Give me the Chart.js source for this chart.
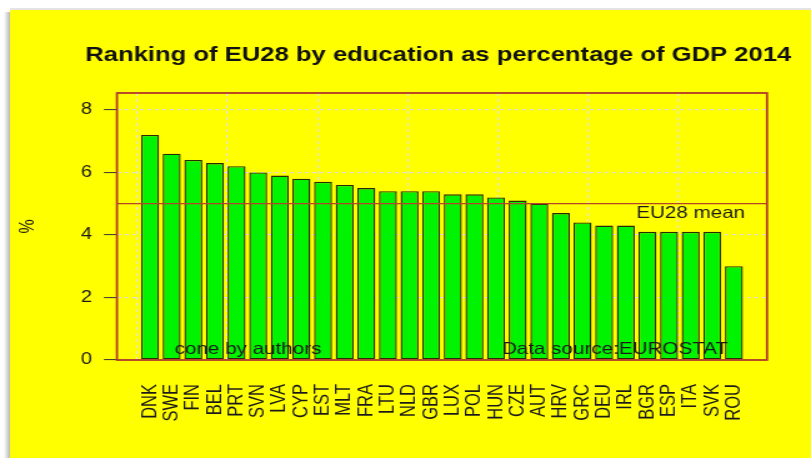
<!DOCTYPE html>
<html><head><meta charset="utf-8">
<script src="https://cdn.jsdelivr.net/npm/chart.js@4/dist/chart.umd.min.js"></script>
<style>
html,body{margin:0;padding:0;background:#fff;overflow:hidden;width:811px;height:458px;}
#wrap{position:absolute;left:0;top:0;width:649px;height:458px;transform:scaleX(1.2496);transform-origin:0 0;}
canvas{display:block;}
</style></head><body>
<div id="wrap"><canvas id="c" width="649" height="458"></canvas></div>
<script>
// ---- data ----
const categories = ['DNK','SWE','FIN','BEL','PRT','SVN','LVA','CYP','EST','MLT','FRA','LTU','NLD','GBR',
                    'LUX','POL','HUN','CZE','AUT','HRV','GRC','DEU','IRL','BGR','ESP','ITA','SVK','ROU'];
const values = [7.2,6.6,6.4,6.3,6.2,6.0,5.9,5.8,5.7,5.6,5.5,5.4,5.4,5.4,
                5.3,5.3,5.2,5.1,5.0,4.7,4.4,4.3,4.3,4.1,4.1,4.1,4.1,3.0];
const yTicks = [0,2,4,6,8];
const euMean = 5.0;
const titleText = 'Ranking of EU28 by education as percentage of GDP 2014';
const yLabel = '%';
const noteTexts = ['cone by authors','Data source:EUROSTAT','EU28 mean'];
const noteX = [4.53, 21.5, 25.0];
const noteY = [0.35, 0.35, 4.7];
// vertical grid positions (R barplot x = 0,5,...,30 expressed in bar-index units)
const xGridAt = [-0.583, 3.583, 7.75, 11.917, 16.083, 20.25, 24.417];
const xMin = -1.53, xMax = 28.53, yMin = 0, yMax = 8.54;

Chart.defaults.font.family = "'Liberation Sans', Arial, Helvetica, sans-serif";
Chart.defaults.color = '#1a1a1a';

const bgPlugin = {
  id: 'bg',
  beforeDraw(chart) {
    const {ctx, width, height} = chart;
    ctx.save();
    ctx.fillStyle = '#fff';
    ctx.fillRect(0, 0, width, height);
    const g = ctx.createLinearGradient(3, 0, 8, 0);
    g.addColorStop(0, 'rgba(0,0,0,0)');
    g.addColorStop(1, 'rgba(0,0,0,0.28)');
    ctx.fillStyle = g;
    ctx.fillRect(3, 12, 5, height - 12);
    ctx.fillStyle = '#e4e4e4';
    ctx.fillRect(8, 8, width - 8, 2);
    ctx.fillStyle = '#ffff00';
    ctx.fillRect(8, 10, width - 8, height - 10);
    ctx.restore();
  }
};

const overlayPlugin = {
  id: 'overlay',
  afterDraw(chart) {
    const {ctx, chartArea: a, scales: {x, y}} = chart;
    ctx.save();
    ctx.strokeStyle = '#b23a28';
    ctx.lineWidth = 1.8;
    ctx.strokeRect(a.left, a.top, a.right - a.left, a.bottom - a.top);
    ctx.textAlign = 'center';
    ctx.textBaseline = 'middle';
    ctx.fillStyle = '#111';
    ctx.font = "bold 20.5px 'Liberation Sans', Arial, sans-serif";
    ctx.fillText(titleText, (a.left + a.right) / 2 - 3, 55);
    ctx.font = "16.5px 'Liberation Sans', Arial, sans-serif";
    ctx.fillStyle = '#1a1a1a';
    noteTexts.forEach((t, i) => {
      ctx.fillText(t, x.getPixelForValue(noteX[i]), y.getPixelForValue(noteY[i]));
    });
    ctx.restore();
  }
};

new Chart(document.getElementById('c'), {
  type: 'bar',
  data: {
    datasets: [
      {
        type: 'line',
        data: [{x: xMin, y: euMean}, {x: xMax, y: euMean}],
        borderColor: '#b5452a',
        borderWidth: 1.2,
        pointRadius: 0,
        order: 0
      },
      {
        type: 'bar',
        data: values.map((v, i) => ({x: i, y: v})),
        backgroundColor: '#00f400',
        borderColor: '#2b2b00',
        borderWidth: 1.4,
        borderSkipped: false,
        barPercentage: 0.8333,
        categoryPercentage: 1,
        order: 1
      }
    ]
  },
  options: {
    responsive: false,
    animation: false,
    events: [],
    layout: {padding: {left: 0, right: 35.2, top: 93, bottom: 0}},
    plugins: {legend: {display: false}, tooltip: {enabled: false}, title: {display: false}},
    scales: {
      x: {
        type: 'linear', min: xMin, max: xMax, position: 'bottom', offset: false,
        afterBuildTicks: s => { s.ticks = categories.map((c, i) => ({value: i})); },
        afterFit: s => { s.height = 98; },
        ticks: {autoSkip: false, minRotation: 90, maxRotation: 90, padding: 16,
                font: {size: 16.5}, color: '#1a1a1a', callback: (v, i) => categories[i]},
        grid: {display: false, offset: false},
        border: {display: false}
      },
      xg: {
        type: 'linear', min: xMin, max: xMax, position: 'top', z: 1, offset: false,
        afterBuildTicks: s => { s.ticks = xGridAt.map(v => ({value: v})); },
        afterFit: s => { s.height = 0; },
        ticks: {display: false},
        grid: {display: true, offset: false, drawTicks: false, color: '#e2e2e2', lineWidth: 1.2},
        border: {display: false, dash: [3, 3]}
      },
      y: {
        type: 'linear', min: yMin, max: yMax, position: 'left',
        afterBuildTicks: s => { s.ticks = yTicks.map(v => ({value: v})); },
        afterFit: s => { s.width = 93.6; },
        ticks: {font: {size: 16}, color: '#1a1a1a', padding: 9.6},
        grid: {color: '#dcdcdc', lineWidth: 1.2, drawTicks: true, tickLength: 10.4,
               tickColor: '#333', tickWidth: 1, tickBorderDash: []},
        border: {display: false, dash: [3, 3]},
        title: {display: true, text: yLabel, font: {size: 16}, color: '#1a1a1a',
                padding: {top: 13.2, bottom: 0}}
      }
    }
  },
  plugins: [bgPlugin, overlayPlugin]
});
</script>
</body></html>
